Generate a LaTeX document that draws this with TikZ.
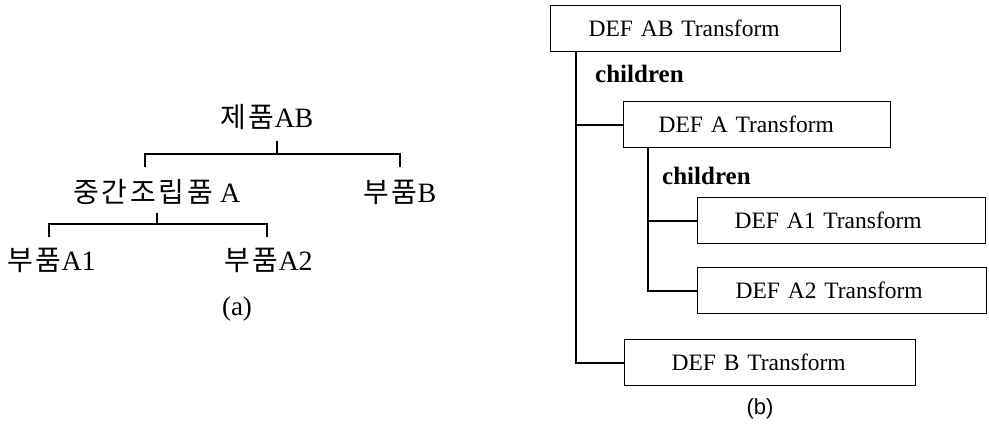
\documentclass[tikz,border=0pt]{standalone}
\usepackage{fontspec}
\setmainfont{Liberation Serif}
\newfontfamily\kr[LetterSpace=10]{Noto Sans CJK KR}
\newfontfamily\labsans{Liberation Sans}
% Hangul part of a tree label
\newcommand{\hg}[1]{{\kr\fontsize{28}{30}\selectfont #1}}
\begin{document}
\begin{tikzpicture}[x=1pt,y=-1pt,
  treetext/.style={inner sep=0pt, anchor=base west,
    font=\fontsize{28}{30}\selectfont},
  bracket/.style={line width=1.8pt},
  tbox/.style={draw, line width=1.2pt, anchor=north west, inner ysep=0pt,
    minimum height=46pt, align=left,
    font=\fontsize{23.5}{26}\selectfont},
  link/.style={line width=2pt},
  childlabel/.style={inner sep=0pt, anchor=base west,
    font=\fontsize{25}{28}\selectfont\bfseries},
  caption/.style={inner sep=0pt, anchor=base}]
\useasboundingbox (0,0) rectangle (989,425);

% ---- (a) product structure tree ----
\node[treetext] (ab) at (220,128) {\hg{제품}AB};
\node[treetext] (ma) at (73,203) {\hg{중간조립품} A};
\node[treetext] (pb) at (363,203) {\hg{부품}B};
\node[treetext] (pa1) at (7,270) {\hg{부품}A1};
\node[treetext] (pa2) at (224,270) {\hg{부품}A2};
\node[caption, font=\fontsize{27}{29}\selectfont] (capa) at (237,315) {(a)};

\coordinate (ab-stem) at (277,141);
\coordinate (j1) at (277,154);
\coordinate (ma-top) at (145,167);
\coordinate (pb-top) at (400,167);
\draw[bracket] (ab-stem) -- (j1);
\draw[bracket] (ma-top) -- (ma-top |- j1) -- (pb-top |- j1) -- (pb-top);

\coordinate (ma-stem) at (157,213);
\coordinate (j2) at (157,224);
\coordinate (pa1-top) at (49,237);
\coordinate (pa2-top) at (267,237);
\draw[bracket] (ma-stem) -- (j2);
\draw[bracket] (pa1-top) -- (pa1-top |- j2) -- (pa2-top |- j2) -- (pa2-top);

% ---- (b) scene graph of transforms ----
\node[tbox, minimum width=290pt, inner xsep=38pt, text width=214pt] (tab) at (550,5) {DEF AB Transform};
\node[tbox, minimum width=267pt, inner xsep=35pt, text width=197pt] (ta) at (623,101) {DEF A Transform};
\node[tbox, minimum width=288pt, inner xsep=37pt, text width=214pt] (ta1) at (697,197) {DEF A1 Transform};
\node[tbox, minimum width=289pt, inner xsep=38pt, text width=213pt] (ta2) at (697,267) {DEF A2 Transform};
\node[tbox, minimum width=291pt, inner xsep=47pt, text width=197pt] (tb) at (624,339) {DEF B Transform};

\node[childlabel] (ch1) at (595,83) {children};
\node[childlabel] (ch2) at (662,185) {children};

\draw[link] ([xshift=26pt]tab.south west) |- (tb.west);
\draw[link] ([xshift=26pt]tab.south west |- ta.west) -- (ta.west);
\draw[link] ([xshift=25pt]ta.south west) |- (ta2.west);
\draw[link] ([xshift=25pt]ta.south west |- ta1.west) -- (ta1.west);

\node[caption, font=\labsans\fontsize{22}{24}\selectfont] (capb) at (760,414) {(b)};
\end{tikzpicture}
\end{document}
